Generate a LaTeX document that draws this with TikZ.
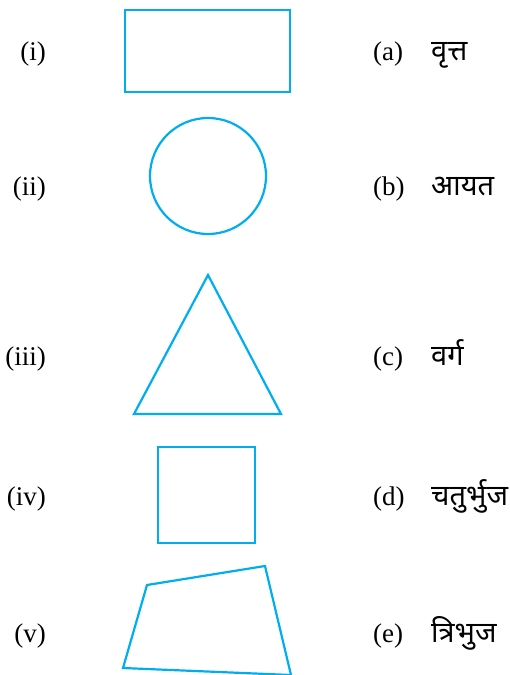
\documentclass[tikz,border=0pt]{standalone}
\usepackage{fontspec}
\setmainfont{Liberation Serif}
\newfontfamily\devfont[Script=Devanagari]{Noto Sans}
\usetikzlibrary{positioning}
\definecolor{figCyan}{RGB}{0,174,239}

\begin{document}
\begin{tikzpicture}[
  x=1pt, y=-1pt,
  outline/.style={draw=figCyan, line width=2.2pt, line join=miter},
  numlbl/.style={font=\fontsize{27}{32}\selectfont, anchor=base east, inner sep=0pt},
  letlbl/.style={font=\fontsize{27}{32}\selectfont, anchor=base west, inner sep=0pt},
  namelbl/.style={font=\devfont\fontsize{29}{32}\selectfont, anchor=base west, inner sep=0pt},
]
\useasboundingbox (0,0) rectangle (509,675);

% --- Shapes, top to bottom ------------------------------------------------
\draw[outline] (125,10) rectangle (290,92);
\draw[outline] (208,176) circle[radius=58];
\draw[outline] (208,275) -- (281,414) -- (134,414) -- cycle;
\draw[outline] (158,447) rectangle (255,543);
\draw[outline] (147,585) -- (265,566) -- (291,675) -- (123,668) -- cycle;

% --- Roman numerals, left column --------------------------------------------
\node[numlbl] (ni)   at (46,60)  {(i)};
\node[numlbl] (nii)  at (46,195) {(ii)};
\node[numlbl] (niii) at (46,365) {(iii)};
\node[numlbl] (niv)  at (46,505) {(iv)};
\node[numlbl] (nv)   at (46,642) {(v)};

% --- Letters and names, right column ----------------------------------------
\node[letlbl] (la) at (373,60)  {(a)};
\node[letlbl] (lb) at (373,195) {(b)};
\node[letlbl] (lc) at (373,365) {(c)};
\node[letlbl] (ld) at (373,505) {(d)};
\node[letlbl] (le) at (373,642) {(e)};

\node[namelbl] (wa) at (431,60)  {वृत्त};
\node[namelbl] (wb) at (431,195) {आयत};
\node[namelbl] (wc) at (431,365) {वर्ग};
\node[namelbl] (wd) at (431,505) {चतुर्भुज};
\node[namelbl] (we) at (431,642) {त्रिभुज};

\end{tikzpicture}
\end{document}
